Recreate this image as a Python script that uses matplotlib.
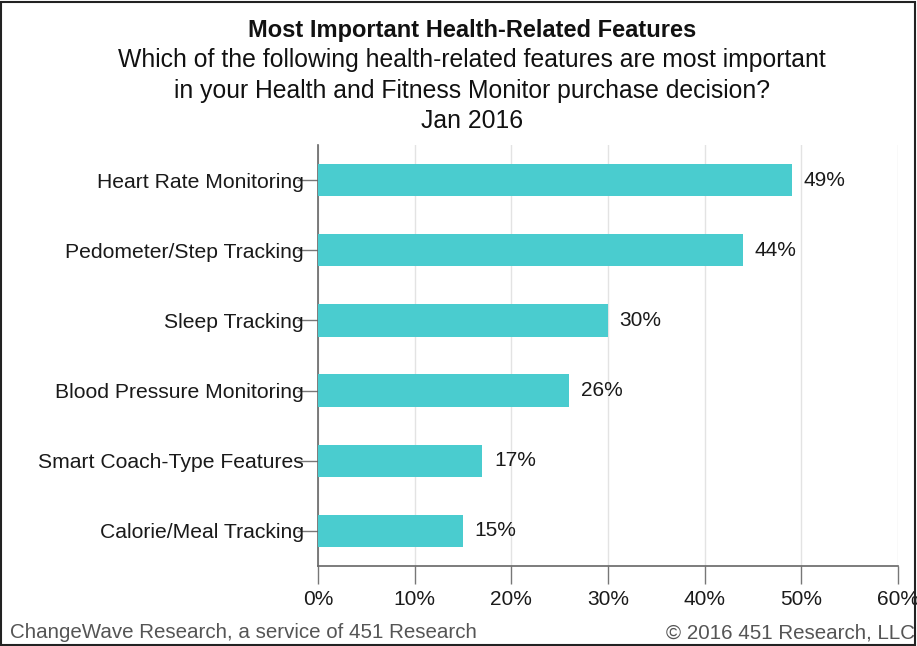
import numpy as np
import matplotlib.pyplot as plt
from matplotlib.patches import Rectangle

plt.rcParams['font.family'] = ['Liberation Sans', 'DejaVu Sans']

categories = ["Heart Rate Monitoring", "Pedometer/Step Tracking", "Sleep Tracking",
              "Blood Pressure Monitoring", "Smart Coach-Type Features", "Calorie/Meal Tracking"]
values = [49, 44, 30, 26, 17, 15]
x_ticks = [0, 10, 20, 30, 40, 50, 60]

W, H = 917, 646
fig = plt.figure(figsize=(W / 100, H / 100), dpi=100)

# plot area in pixels: left 318, right 898, top 145, bottom 566
ax = fig.add_axes([318 / W, 1 - 566 / H, (898 - 318) / W, (566 - 145) / H])

y = np.arange(len(categories))
ax.barh(y, values, height=0.46, color="#4acccf", zorder=3)
for yi, v in zip(y, values):
    ax.text(v + 1.2, yi, f"{v}%", va="center", ha="left", fontsize=15, color="#1a1a1a")

ax.set_xlim(0, 60)
ax.set_ylim(len(categories) - 0.5, -0.5)
ax.set_xticks(x_ticks)
ax.set_xticklabels([f"{t}%" for t in x_ticks], fontsize=15, color="#1a1a1a")
ax.set_yticks(y)
ax.set_yticklabels(categories, fontsize=15.2, color="#1a1a1a")
ax.xaxis.grid(True, color="#e3e3e3", linewidth=1, zorder=0)
ax.tick_params(axis="x", length=13, width=1, color="#777777", pad=4)
ax.tick_params(axis="y", length=15, width=1, color="#777777", pad=-5)
for s in ["top", "right"]:
    ax.spines[s].set_visible(False)
for s in ["left", "bottom"]:
    ax.spines[s].set_color("#666666")
    ax.spines[s].set_linewidth(1.2)

cx = 472 / W
fig.text(cx, 1 - 30 / H, "Most Important Health-Related Features", ha="center", va="center",
         fontsize=17, fontweight="bold", color="#111111")
fig.text(cx, 1 - 60 / H, "Which of the following health-related features are most important",
         ha="center", va="center", fontsize=17.8, color="#111111")
fig.text(cx, 1 - 91 / H, "in your Health and Fitness Monitor purchase decision?",
         ha="center", va="center", fontsize=17.8, color="#111111")
fig.text(cx, 1 - 121 / H, "Jan 2016", ha="center", va="center", fontsize=17.8, color="#111111")

fig.text(10 / W, 1 - 633 / H, "ChangeWave Research, a service of 451 Research",
         ha="left", va="center", fontsize=14.8, color="#555555")
fig.text(1 - 2 / W, 1 - 633 / H, "© 2016 451 Research, LLC",
         ha="right", va="center", fontsize=14.8, color="#555555")

fig.patches.append(Rectangle((0.5 / W, 1.5 / H), 1 - 2.5 / W, 1 - 3 / H, transform=fig.transFigure,
                             fill=False, edgecolor="#222222", linewidth=1.5))

fig.savefig("out.png", dpi=100)
